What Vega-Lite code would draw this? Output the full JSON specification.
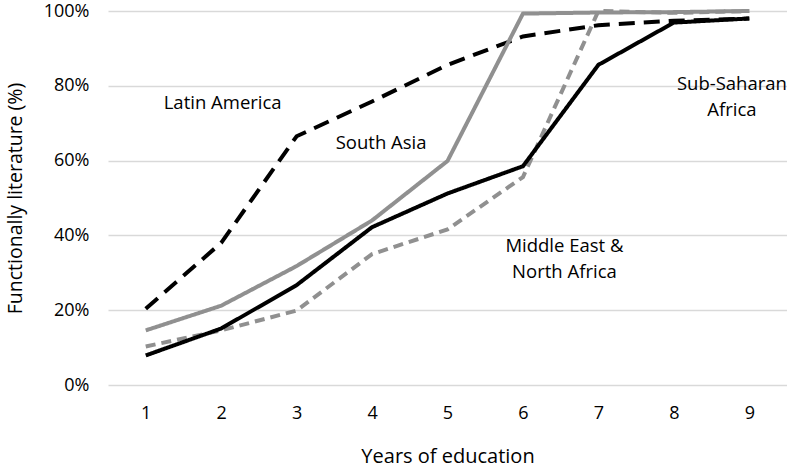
{
  "$schema": "https://vega.github.io/schema/vega-lite/v6.json",
  "autosize": "none",
  "width": 679,
  "height": 374,
  "padding": {"left": 108, "top": 11, "right": 0, "bottom": 82},
  "background": "white",
  "config": {
    "view": {"stroke": null},
    "font": "Open Sans",
    "axis": {"labelFont": "Open Sans", "titleFont": "Open Sans", "labelColor": "#000", "titleColor": "#000", "labelFontSize": 18, "titleFontSize": 20, "titleFontWeight": "normal"}
  },
  "datasets": {
    "series": [
      {"region": "Latin America", "year": 1, "pct": 20.4},
      {"region": "Latin America", "year": 2, "pct": 38},
      {"region": "Latin America", "year": 3, "pct": 66.5},
      {"region": "Latin America", "year": 4, "pct": 75.8},
      {"region": "Latin America", "year": 5, "pct": 85.6},
      {"region": "Latin America", "year": 6, "pct": 93.2},
      {"region": "Latin America", "year": 7, "pct": 96.2},
      {"region": "Latin America", "year": 8, "pct": 97.4},
      {"region": "Latin America", "year": 9, "pct": 98},
      {"region": "South Asia", "year": 1, "pct": 14.6},
      {"region": "South Asia", "year": 2, "pct": 21.2},
      {"region": "South Asia", "year": 3, "pct": 31.8},
      {"region": "South Asia", "year": 4, "pct": 44},
      {"region": "South Asia", "year": 5, "pct": 59.9},
      {"region": "South Asia", "year": 6, "pct": 99.3},
      {"region": "South Asia", "year": 7, "pct": 99.6},
      {"region": "South Asia", "year": 8, "pct": 99.7},
      {"region": "South Asia", "year": 9, "pct": 100},
      {"region": "Middle East & North Africa", "year": 1, "pct": 10.3},
      {"region": "Middle East & North Africa", "year": 2, "pct": 14.6},
      {"region": "Middle East & North Africa", "year": 3, "pct": 19.9},
      {"region": "Middle East & North Africa", "year": 4, "pct": 35},
      {"region": "Middle East & North Africa", "year": 5, "pct": 41.6},
      {"region": "Middle East & North Africa", "year": 6, "pct": 55.6},
      {"region": "Middle East & North Africa", "year": 7, "pct": 100},
      {"region": "Middle East & North Africa", "year": 8, "pct": 99.5},
      {"region": "Middle East & North Africa", "year": 9, "pct": 100},
      {"region": "Sub-Saharan Africa", "year": 1, "pct": 7.9},
      {"region": "Sub-Saharan Africa", "year": 2, "pct": 15.1},
      {"region": "Sub-Saharan Africa", "year": 3, "pct": 26.7},
      {"region": "Sub-Saharan Africa", "year": 4, "pct": 42.2},
      {"region": "Sub-Saharan Africa", "year": 5, "pct": 51.2},
      {"region": "Sub-Saharan Africa", "year": 6, "pct": 58.5},
      {"region": "Sub-Saharan Africa", "year": 7, "pct": 85.6},
      {"region": "Sub-Saharan Africa", "year": 8, "pct": 96.9},
      {"region": "Sub-Saharan Africa", "year": 9, "pct": 98}
    ],
    "labels": [
      {"text": ["Latin America"], "x": 2.02, "y": 75.5},
      {"text": ["South Asia"], "x": 4.12, "y": 64.7},
      {"text": ["Middle East &", "North Africa"], "x": 6.55, "y": 37.2},
      {"text": ["Sub-Saharan", "Africa"], "x": 8.77, "y": 80.4}
    ]
  },
  "layer": [
    {
      "data": {"name": "series"},
      "mark": {"type": "line", "strokeWidth": 4, "strokeCap": "butt", "strokeJoin": "miter"},
      "encoding": {
        "x": {"field": "year", "type": "ordinal", "scale": {"type": "point", "padding": 0.5}, "sort": null,
              "axis": {"title": "Years of education", "labelAngle": 0, "domain": false, "ticks": false, "grid": false, "labelPadding": 19, "titlePadding": 24}},
        "y": {"field": "pct", "type": "quantitative", "scale": {"domain": [0, 100], "nice": false},
              "axis": {"title": "Functionally literature (%)", "titleFontSize": 19.5, "values": [0, 20, 40, 60, 80, 100], "labelExpr": "datum.value + '%'", "domain": false, "ticks": false, "grid": true, "gridColor": "#d9d9d9", "gridWidth": 1.5, "labelPadding": 19, "titlePadding": 18}},
        "detail": {"field": "region"},
        "color": {"field": "region", "type": "nominal", "legend": null,
                  "scale": {"domain": ["Latin America", "South Asia", "Middle East & North Africa", "Sub-Saharan Africa"], "range": ["#000000", "#909090", "#909090", "#000000"]}},
        "strokeDash": {"field": "region", "type": "nominal", "legend": null,
                  "scale": {"domain": ["Latin America", "South Asia", "Middle East & North Africa", "Sub-Saharan Africa"], "range": [[16, 9], [1, 0], [10, 6], [1, 0]]}}
      }
    },
    {
      "data": {"name": "labels"},
      "mark": {"type": "text", "fontSize": 18.5, "font": "Open Sans", "color": "#000", "lineHeight": 26, "baseline": "middle", "align": "center"},
      "encoding": {
        "x": {"field": "x", "type": "quantitative", "scale": {"domain": [0.5, 9.5], "nice": false, "zero": false}, "axis": null},
        "y": {"field": "y", "type": "quantitative", "scale": {"domain": [0, 100], "nice": false},
              "axis": {"title": "Functionally literature (%)", "titleFontSize": 19.5, "values": [0, 20, 40, 60, 80, 100], "labelExpr": "datum.value + '%'", "domain": false, "ticks": false, "grid": true, "gridColor": "#d9d9d9", "gridWidth": 1.5, "labelPadding": 19, "titlePadding": 18}},
        "text": {"field": "text"}
      }
    }
  ],
  "resolve": {"scale": {"x": "independent"}}
}
